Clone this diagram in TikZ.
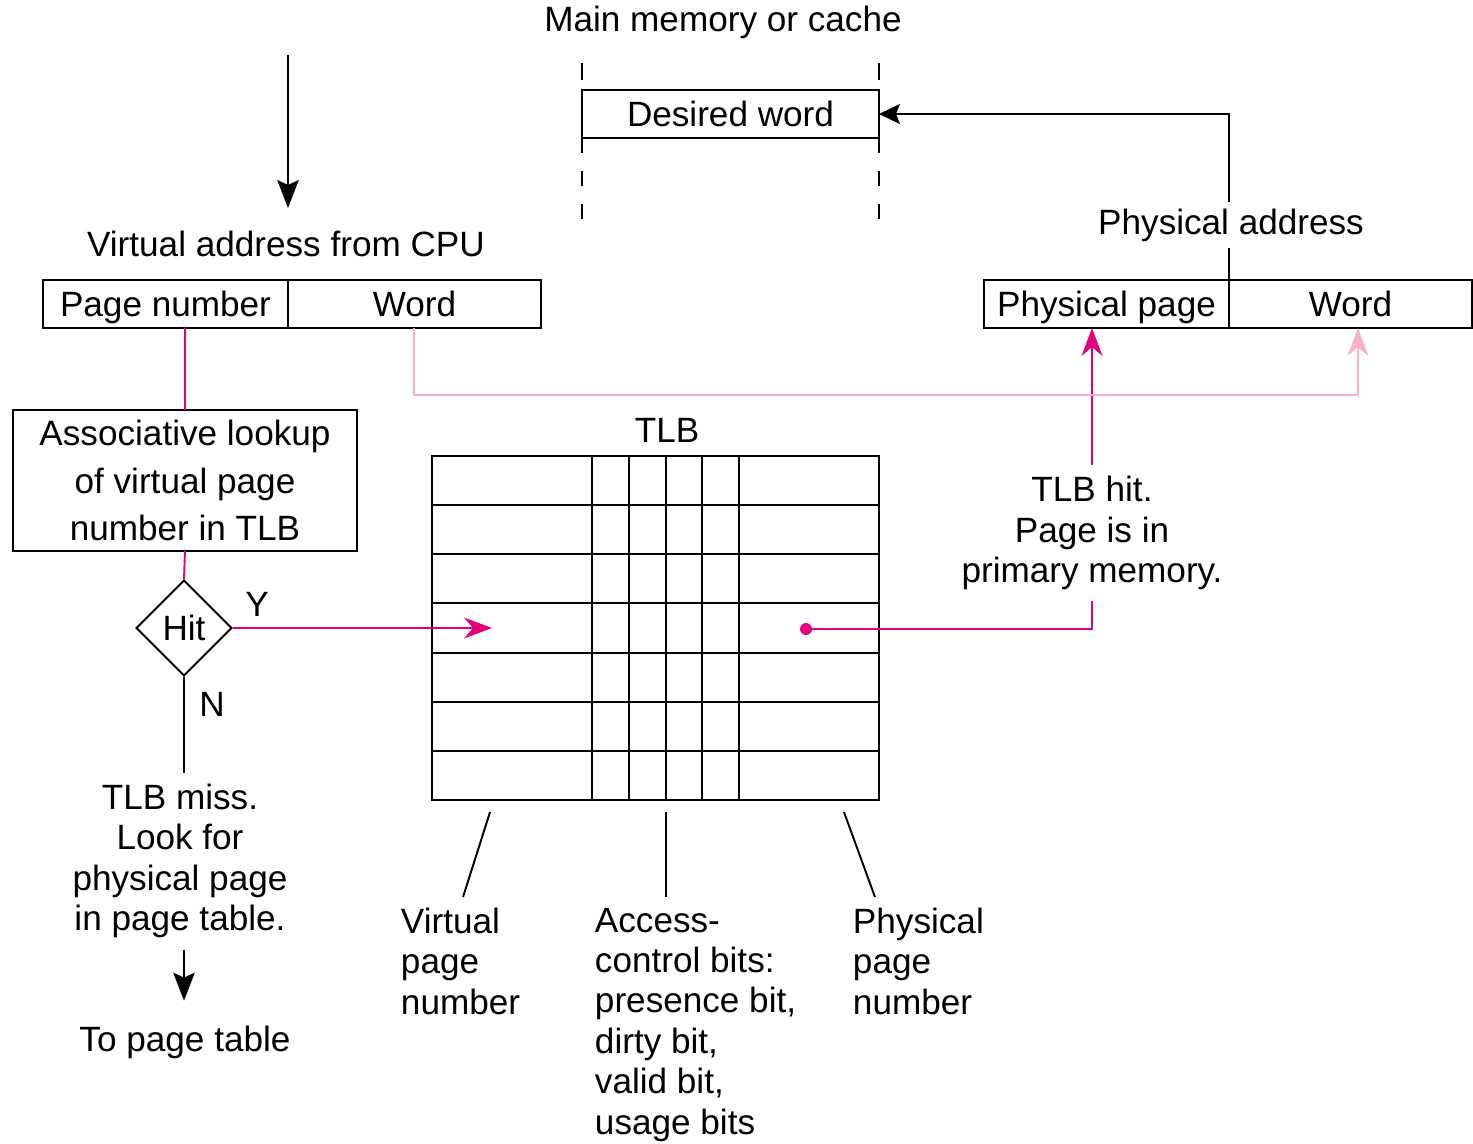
\documentclass[tikz,border=0pt]{standalone}
\usepackage{fontspec}
\setmainfont{Liberation Sans}
\usetikzlibrary{shapes.geometric, arrows.meta, positioning, calc}
\definecolor{hitpink}{RGB}{228,0,124}
\definecolor{wordpink}{RGB}{246,178,202}
\tikzstyle{cell} = [rectangle, draw, minimum height=0.96cm, inner sep=0pt, outer sep=0pt, text height=14.3pt, text depth=0pt]
\tikzstyle{txt} = [inner sep=0pt, align=center]
\tikzstyle{arrow} = [-{Stealth[length=0.56cm, width=0.43cm, inset=0.1cm]}]
\tikzstyle{smallarrow} = [-{Stealth[length=0.42cm, width=0.4cm, inset=0.08cm]}]
\tikzstyle{pinkarrow} = [-{Stealth[length=0.56cm, width=0.42cm, inset=0.18cm]}]

\begin{document}
\begin{tikzpicture}[x=0.02cm, y=-0.02cm, line width=1.1pt, font=\fontsize{20}{23}\selectfont]
    \useasboundingbox (0,0) rectangle (1473,1143);

    % memory
    \node (mem) [txt] at (723,22) {Main memory or cache};
    \node (dw) [cell, minimum width=5.94cm] at (730.5,114) {Desired word};
    \draw [dash pattern=on 0.34cm off 0.4cm] ([yshift=0.54cm]dw.north west) -- (dw.north west);
    \draw [dash pattern=on 0.34cm off 0.4cm] ([yshift=0.54cm]dw.north east) -- (dw.north east);
    \draw [dash pattern=on 0.3cm off 0.36cm] (dw.south west) -- ++(0,84);
    \draw [dash pattern=on 0.3cm off 0.36cm] (dw.south east) -- ++(0,84);

    % virtual address
    \coordinate (cpu) at (288,55);
    \coordinate (cpuend) at (288,208);
    \node (va) [txt] at (286,244) {Virtual address from CPU};
    \node (pn) [cell, minimum width=4.9cm] at (165.5,304) {Page number};
    \node (wd) [cell, minimum width=5.06cm, right=0pt of pn] {Word};

    % physical address
    \node (pp) [cell, minimum width=4.9cm] at (1106.5,304) {Physical page};
    \node (pw) [cell, minimum width=4.86cm, right=0pt of pp] {Word};

    % lookup
    \node (assoc) [draw, minimum width=6.88cm, minimum height=2.82cm, inner sep=0pt, outer sep=0pt, align=center,
                   font=\fontsize{20}{27}\selectfont] at (185,480.5)
          {Associative lookup\\of virtual page\\number in TLB};
    \node (hit) [diamond, draw, minimum width=1.92cm, minimum height=1.92cm, inner sep=0pt] at (184,628) {Hit};
    \node (y) [txt] at (257,604) {Y};
    \node (n) [txt] at (212,704) {N};
    \node (miss) [txt, inner sep=6pt] at (180,861) {TLB miss.\\Look for\\physical page\\in page table.};
    \node (topt) [txt] at (185,1042) {To page table};

    % TLB
    \node (tlbt) [txt] at (667,430) {TLB};
    \node (tlb) [draw, minimum width=8.94cm, minimum height=6.88cm, inner sep=0pt, outer sep=0pt] at (655.5,628) {};
    \foreach \r in {1,...,6}
      \draw ($(tlb.north west)!\r/7!(tlb.south west)$) -- ($(tlb.north east)!\r/7!(tlb.south east)$);
    \foreach \c in {160,197,234,270,307}
      \draw ([xshift=\c*0.02cm]tlb.north west) -- ([xshift=\c*0.02cm]tlb.south west);
    \coordinate (vpnin) at (492,628);
    \coordinate (ppn) at (806,629);

    \node (vpnlbl) [txt, align=left, anchor=north west] at (400,907) {Virtual\\page\\number};
    \node (acclbl) [txt, align=left, anchor=north west] at (594,907)
          {Access-\\control bits:\\presence bit,\\dirty bit,\\valid bit,\\usage bits};
    \node (ppnlbl) [txt, align=left, anchor=north west] at (852,907) {Physical\\page\\number};
    \draw ([shift={(58,12)}]tlb.south west) -- ([shift={(31,97)}]tlb.south west);
    \draw ([shift={(10.5,12)}]tlb.south) -- ([shift={(10.5,97)}]tlb.south);
    \draw ([shift={(-35,12)}]tlb.south east) -- ([shift={(-4,97)}]tlb.south east);

    \node (hittxt) [txt, inner sep=6pt] at (1092,533) {TLB hit.\\Page is in\\primary memory.};

    % connectors
    \draw [arrow] (cpu) -- (cpuend);
    \draw [hitpink] (assoc.north) -- (assoc.north |- pn.south);
    \draw [hitpink] (assoc.south) -- (hit.north);
    \draw [pinkarrow, hitpink] (hit.east) -- (vpnin);
    \draw (hit.south) -- (hit.south |- miss.north);
    \draw [arrow, shorten >=0.48cm] (hit.south |- miss.south) -- (hit.south |- topt.north);
    \fill [hitpink] (ppn) circle (0.12cm);
    \draw [hitpink] (ppn) -| (hittxt.south);
    \draw [pinkarrow, hitpink] (hittxt.north) -- (hittxt.north |- pp.south);
    \draw [pinkarrow, wordpink] (wd.south) -- ++(0,67) -| ([xshift=0.15cm]pw.south);
    \draw [smallarrow] (pp.north east) |- (dw.east);
    \node (pa) [txt, fill=white, inner sep=4pt] at (1231,225) {Physical address};
\end{tikzpicture}
\end{document}
